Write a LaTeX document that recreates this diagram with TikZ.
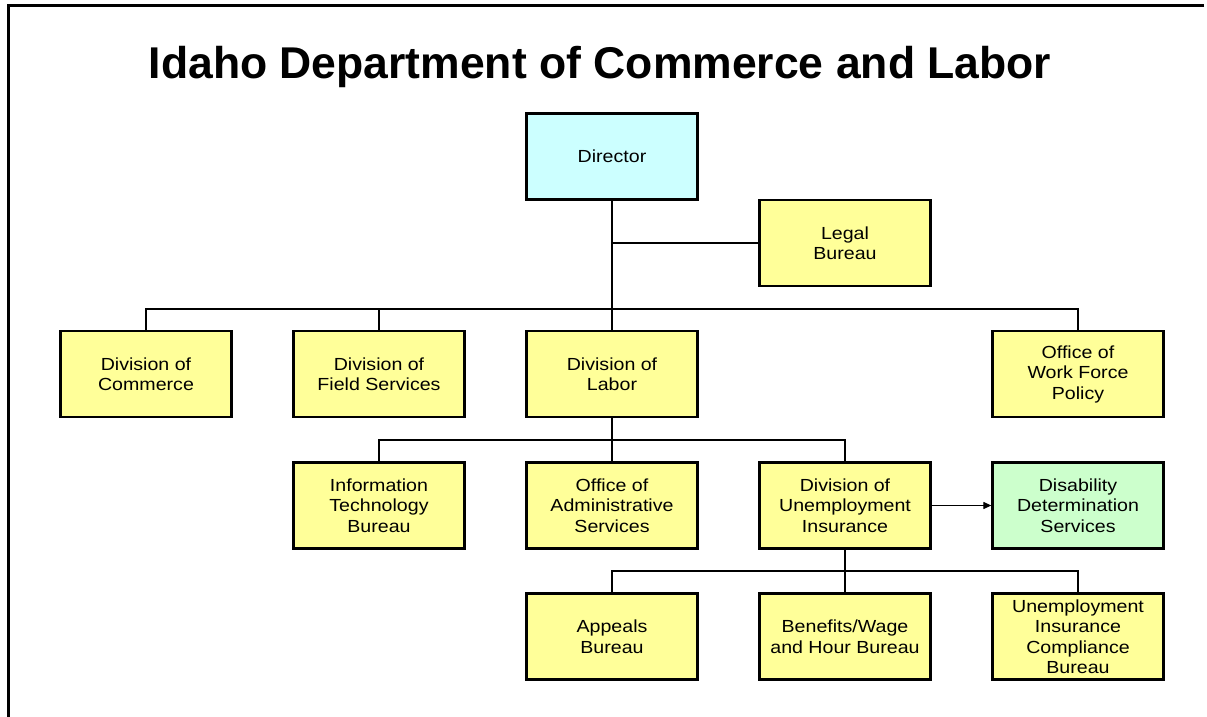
\documentclass[tikz,border=0pt]{standalone}
\usepackage{fontspec}
\setmainfont{Liberation Sans}
\newfontfamily\boxfont[FakeStretch=1.12]{Liberation Sans}
\usetikzlibrary{arrows.meta}
\definecolor{boxyellow}{HTML}{FFFF99}
\definecolor{boxcyan}{HTML}{CCFFFF}
\definecolor{boxgreen}{HTML}{CCFFCC}
\begin{document}
\begin{tikzpicture}[x=1pt,y=-1pt,
  box/.style={draw=black, line width=2.3pt, fill=boxyellow, minimum width=171pt, minimum height=86pt, inner sep=0pt, align=center, font=\boxfont\fontsize{17.5}{20.5}\selectfont},
  conn/.style={line width=2pt},
  frame/.style={line width=3pt}]
\useasboundingbox (0,0) rectangle (1207,717);
\draw[frame] (1204,5.5) -- (8,5.5) -- (8,717);
\node[font=\bfseries\fontsize{44.5}{50}\selectfont, anchor=base] (title) at (600,78) {Idaho Department of Commerce and Labor};
% boxes
\node[box, fill=boxcyan] (dir) at (612,156.5) {Director};
\node[box] (legal) at (845,243) {Legal\\Bureau};
\node[box] (com) at (146,374) {Division of\\Commerce};
\node[box] (field) at (379,374) {Division of\\Field Services};
\node[box] (labor) at (612,374) {Division of\\Labor};
\node[box] (wfp) at (1078,374) {Office of\\Work Force\\Policy};
\node[box] (it) at (379,505.5) {Information\\Technology\\Bureau};
\node[box] (admin) at (612,505.5) {Office of\\Administrative\\Services};
\node[box] (dui) at (845,505.5) {Division of\\Unemployment\\Insurance};
\node[box, fill=boxgreen] (dds) at (1078,505.5) {Disability\\Determination\\Services};
\node[box] (appeals) at (612,636.5) {Appeals\\Bureau};
\node[box] (benefits) at (845,636.5) {Benefits/Wage\\and Hour Bureau};
\node[box] (uic) at (1078,636.5) {Unemployment\\Insurance\\Compliance\\Bureau};
% bus coordinates
\coordinate (b1) at (612,309);
\coordinate (b2) at (612,440);
\coordinate (b3) at (845,571);
% connectors
\draw[conn] (dir.south) -- (labor.north);
\draw[conn] (dir.south |- legal.west) -- (legal.west);
\draw[conn] (com.north) |- (b1) -| (wfp.north);
\draw[conn] (field.north) -- (field.north |- b1);
\draw[conn] (labor.south) -- (admin.north);
\draw[conn] (it.north) |- (b2) -| (dui.north);
\draw[conn] (dui.south) -- (benefits.north);
\draw[conn] (appeals.north) |- (b3) -| (uic.north);
\draw[line width=1.2pt, -{Triangle[length=8pt,width=7pt]}] (dui.east) -- (dds.west);
\end{tikzpicture}
\end{document}
